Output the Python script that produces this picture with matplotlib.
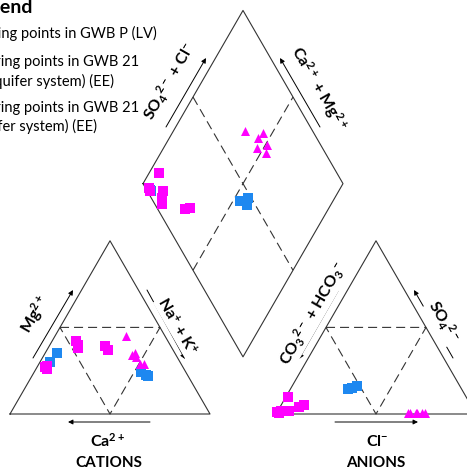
import numpy as np
import matplotlib.pyplot as plt

plt.rcParams['font.family'] = ['Lato', 'DejaVu Sans']
plt.rcParams['mathtext.default'] = 'regular'
plt.rcParams['lines.scale_dashes'] = False

# GWB P (LV) - triangles
tri_mg = [45, 34, 35, 33, 29, 29]
tri_nak = [35.5, 44, 45, 46.5, 50.5, 52.5]
tri_so4 = [0.5, 0.5, 0.5, 0.5, 0.5, 0.5]
tri_cl = [65.5, 70, 74, 66.5, 72.5, 69.5]

# GWB 21 (EE) - magenta squares
sq_mg = [27, 28, 26, 42, 40, 38, 39, 37]
sq_nak = [4, 4.7, 5.3, 11.8, 13.8, 15.1, 28, 30.7]
sq_so4 = [0.5, 9.8, 1, 2, 1.5, 2, 4, 5]
sq_cl = [1, 1, 0.2, 5.7, 4.1, 1.4, 9.5, 11.7]

# GWB 21 (EE) - blue squares
bl_mg = [35, 30, 24, 22.5, 22]
bl_nak = [6, 5, 53.5, 56.7, 58]
bl_so4 = [0.5, 1, 14.5, 16, 15]
bl_cl = [1, 0.5, 28.8, 32.5, 30.5]

MAGENTA = '#ff00ff'
BLUE = '#1e88f0'
EDGE = '#333333'

L = 200.0
H = L * np.sqrt(3) / 2
cx0, base_y = 10.0, 414.0
ax0 = 276.0
g = (ax0 - cx0 - L) / L


def cation_xy(mg, nak):
    mg = np.asarray(mg, float) / 100
    nak = np.asarray(nak, float) / 100
    return cx0 + L * (nak + mg / 2), base_y - H * mg


def anion_xy(so4, cl):
    so4 = np.asarray(so4, float) / 100
    cl = np.asarray(cl, float) / 100
    return ax0 + L * (cl + so4 / 2), base_y - H * so4


def diamond_xy(nak, so4cl):
    a = np.asarray(nak, float) / 100
    b = np.asarray(so4cl, float) / 100
    return cx0 + L * 0.5 * (a + 1 + g + b), base_y - H * (1 + g + b - a)


fig = plt.figure(figsize=(4.67, 4.70), dpi=100)
ax = fig.add_axes([0, 0, 1, 1])
ax.set_xlim(0, 467)
ax.set_ylim(470, 0)
ax.axis('off')

lw = 0.8
dash = dict(color=EDGE, lw=lw, dashes=(6.5, 3.6))

# cation triangle
pts = [cation_xy(0, 0), cation_xy(0, 100), cation_xy(100, 0), cation_xy(0, 0)]
ax.plot([p[0] for p in pts], [p[1] for p in pts], color=EDGE, lw=lw)
pts = [cation_xy(50, 0), cation_xy(50, 50), cation_xy(0, 50), cation_xy(50, 0)]
ax.plot([p[0] for p in pts], [p[1] for p in pts], **dash)

# anion triangle
pts = [anion_xy(0, 0), anion_xy(0, 100), anion_xy(100, 0), anion_xy(0, 0)]
ax.plot([p[0] for p in pts], [p[1] for p in pts], color=EDGE, lw=lw)
pts = [anion_xy(50, 0), anion_xy(50, 50), anion_xy(0, 50), anion_xy(50, 0)]
ax.plot([p[0] for p in pts], [p[1] for p in pts], **dash)

# diamond
pts = [diamond_xy(0, 0), diamond_xy(0, 100), diamond_xy(100, 100),
       diamond_xy(100, 0), diamond_xy(0, 0)]
ax.plot([p[0] for p in pts], [p[1] for p in pts], color=EDGE, lw=lw)
for p, q in [((0, 50), (100, 50)), ((50, 0), (50, 100))]:
    a, b = diamond_xy(*p), diamond_xy(*q)
    ax.plot([a[0], b[0]], [a[1], b[1]], **dash)

# points
def draw(mg, nak, so4, cl, color, marker, ms):
    x, y = cation_xy(mg, nak)
    ax.scatter(x, y, s=ms, c=color, marker=marker, linewidths=0, zorder=3)
    x, y = anion_xy(so4, cl)
    ax.scatter(x, y, s=ms, c=color, marker=marker, linewidths=0, zorder=3)
    x, y = diamond_xy(nak, np.add(so4, cl))
    ax.scatter(x, y, s=ms, c=color, marker=marker, linewidths=0, zorder=3)

draw(bl_mg, bl_nak, bl_so4, bl_cl, BLUE, 's', 55)
draw(sq_mg, sq_nak, sq_so4, sq_cl, MAGENTA, 's', 55)
draw(tri_mg, tri_nak, tri_so4, tri_cl, MAGENTA, '^', 42)

# arrows
arrows = [((33, 358), (73, 290)), ((147, 290), (185, 359)), ((150, 422), (68, 422)),
          ((338, 291), (299, 359)), ((453, 358), (414, 290)), ((335, 422), (418, 422)),
          ((166, 127), (206, 58)), ((320, 127), (280, 58))]
for s, e in arrows:
    ax.annotate('', xy=e, xytext=s,
                arrowprops=dict(arrowstyle='-|>', lw=0.7, color='black',
                                mutation_scale=7, shrinkA=0, shrinkB=0))

lab = dict(ha='center', va='center', fontsize=11.5, fontweight='bold', zorder=4)
wb = dict(facecolor='white', edgecolor='none', pad=0.5)
ax.text(35, 314, r'Mg$^{2+}$', rotation=60, **lab)
ax.text(177, 326, r'Na$^{+}$ + K$^{+}$', rotation=-60, bbox=wb, **lab)
ax.text(108, 441, r'Ca$^{2+}$', **lab)
ax.text(313, 314, r'CO$_3$$^{2-}$ + HCO$_3$$^{-}$', rotation=60, bbox=wb, **lab)
ax.text(443, 322, r'SO$_4$$^{2-}$', rotation=-60, bbox=wb, **lab)
ax.text(377, 441, r'Cl$^{-}$', **lab)
ax.text(170, 82, r'SO$_4$$^{2-}$ + Cl$^{-}$', rotation=60, **lab)
ax.text(319, 88, r'Ca$^{2+}$ + Mg$^{2+}$', rotation=-60, **lab)
ax.text(109, 463, 'CATIONS', ha='center', va='center', fontsize=11, fontweight='bold')
ax.text(376, 463, 'ANIONS', ha='center', va='center', fontsize=11, fontweight='bold')

# legend (cut off at the left edge, as in the source figure)
ax.text(33, 8, 'Legend', ha='right', va='center', fontsize=14, fontweight='bold')
leg = [(157, 33, 'Monitoring points in GWB P (LV)'),
       (139, 62, 'Monitoring points in GWB 21'),
       (114, 81, '(aquifer system) (EE)'),
       (139, 108, 'Monitoring points in GWB 21'),
       (97, 126, '(aquifer system) (EE)')]
for x, y, t in leg:
    ax.text(x, y, t, ha='right', va='center', fontsize=10.5)

fig.savefig('out.png', dpi=100)
